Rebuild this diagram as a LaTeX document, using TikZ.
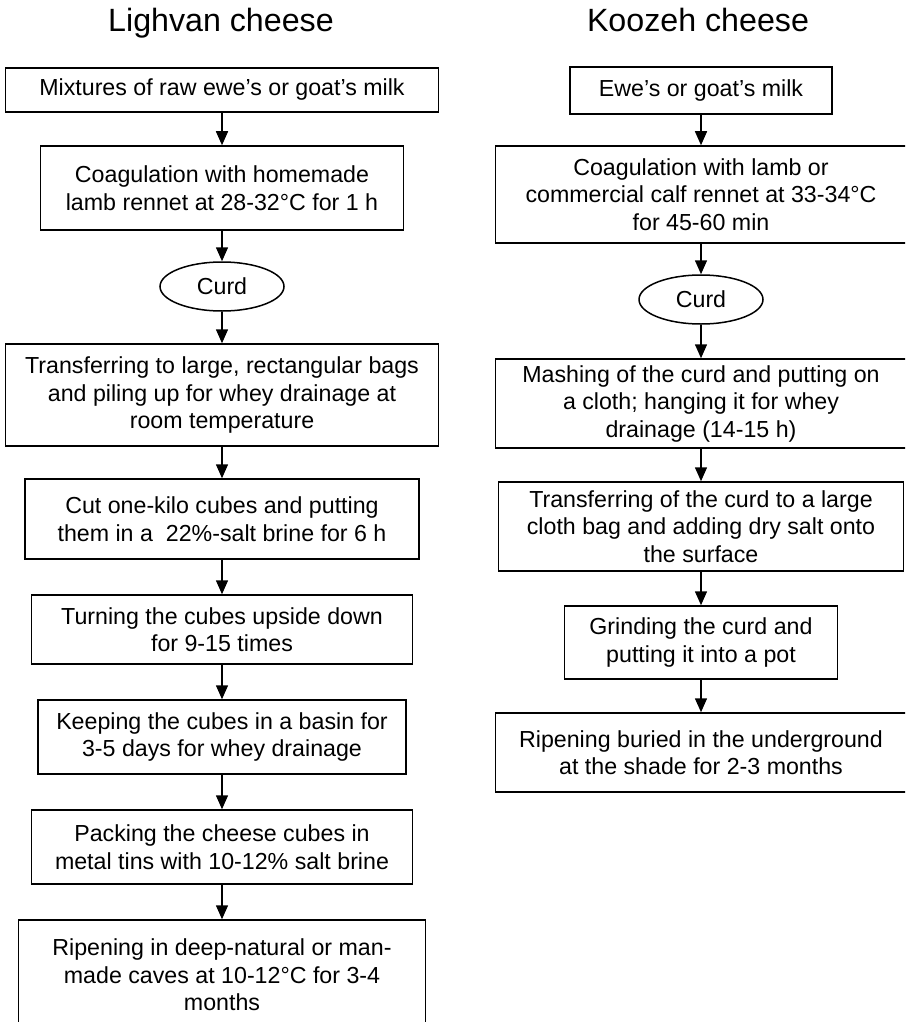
\documentclass[tikz,border=0pt]{standalone}
\usepackage{fontspec}
\setmainfont{Liberation Sans}
\usetikzlibrary{arrows.meta,shapes.geometric}

\begin{document}
\begin{tikzpicture}[x=0.5pt,y=-0.5pt,
    stepbox/.style={draw, line width=0.75pt, align=center, inner sep=0pt,
        font=\fontsize{11.6}{13.75}\selectfont},
    curd/.style={ellipse, draw, line width=0.75pt, inner sep=0pt,
        minimum width=62pt, minimum height=24.5pt, font=\fontsize{11.6}{13.75}\selectfont},
    title/.style={anchor=base, font=\fontsize{16.1}{19}\selectfont},
    arr/.style={-{Triangle[width=6pt,length=7pt]}, line width=0.75pt}]
    \useasboundingbox (0,0) rectangle (905,1022);
    \clip (0,0) rectangle (905,1022);

    % Titles
    \node[title] (tl) at (221,32) {Lighvan cheese};
    \node[title] (tr) at (698,32) {Koozeh cheese};

    % Lighvan steps
    \node[stepbox, minimum width=216.5pt, minimum height=22pt] (l1) at (222,90)
        {Mixtures of raw ewe’s or goat’s milk};
    \node[stepbox, minimum width=181.5pt, minimum height=42pt] (l2) at (222,188)
        {Coagulation with homemade\\lamb rennet at 28-32°C for 1 h};
    \node[curd] (lc) at (222,286.5) {Curd};
    \node[stepbox, minimum width=216.5pt, minimum height=51pt] (l3) at (222,395)
        {Transferring to large, rectangular bags\\and piling up for whey drainage at\\room temperature};
    \node[stepbox, minimum width=197pt, minimum height=40pt] (l4) at (222,519)
        {Cut one-kilo cubes and putting\\them in a\ \ 22\%-salt brine for 6 h};
    \node[stepbox, minimum width=190.5pt, minimum height=34.5pt] (l5) at (222,629.5)
        {Turning the cubes upside down\\for 9-15 times};
    \node[stepbox, minimum width=184pt, minimum height=37pt] (l6) at (222,737)
        {Keeping the cubes in a basin for\\3-5 days for whey drainage};
    \node[stepbox, minimum width=190.5pt, minimum height=37pt] (l7) at (222,847)
        {Packing the cheese cubes in\\metal tins with 10-12\% salt brine};
    \node[stepbox, minimum width=203.5pt, minimum height=55pt] (l8) at (222,975)
        {Ripening in deep-natural or man-\\made caves at 10-12°C for 3-4\\months};

    % Koozeh steps
    \node[stepbox, minimum width=131pt, minimum height=23.5pt] (r1) at (701,90.5)
        {Ewe’s or goat’s milk};
    \node[stepbox, minimum width=205.5pt, minimum height=48.5pt] (r2) at (701,194.5)
        {Coagulation with lamb or\\commercial calf rennet at 33-34°C\\for 45-60 min};
    \node[curd] (rc) at (701,299.5) {Curd};
    \node[stepbox, minimum width=205.5pt, minimum height=44.5pt] (r3) at (701,403.5)
        {Mashing of the curd and putting on\\a cloth; hanging it for whey\\drainage (14-15 h)};
    \node[stepbox, minimum width=202.5pt, minimum height=44.5pt] (r4) at (701,526.5)
        {Transferring of the curd to a large\\cloth bag and adding dry salt onto\\the surface};
    \node[stepbox, minimum width=136.5pt, minimum height=36.5pt] (r5) at (701,642.5)
        {Grinding the curd and\\putting it into a pot};
    \node[stepbox, minimum width=205.5pt, minimum height=39.5pt] (r6) at (701,752.5)
        {Ripening buried in the underground\\at the shade for 2-3 months};

    % Arrows
    \foreach \a/\b in {l1/l2, l2/lc, lc/l3, l3/l4, l4/l5, l5/l6, l6/l7, l7/l8,
                       r1/r2, r2/rc, rc/r3, r3/r4, r4/r5, r5/r6}
        \draw[arr] (\a) -- (\b);
\end{tikzpicture}
\end{document}
